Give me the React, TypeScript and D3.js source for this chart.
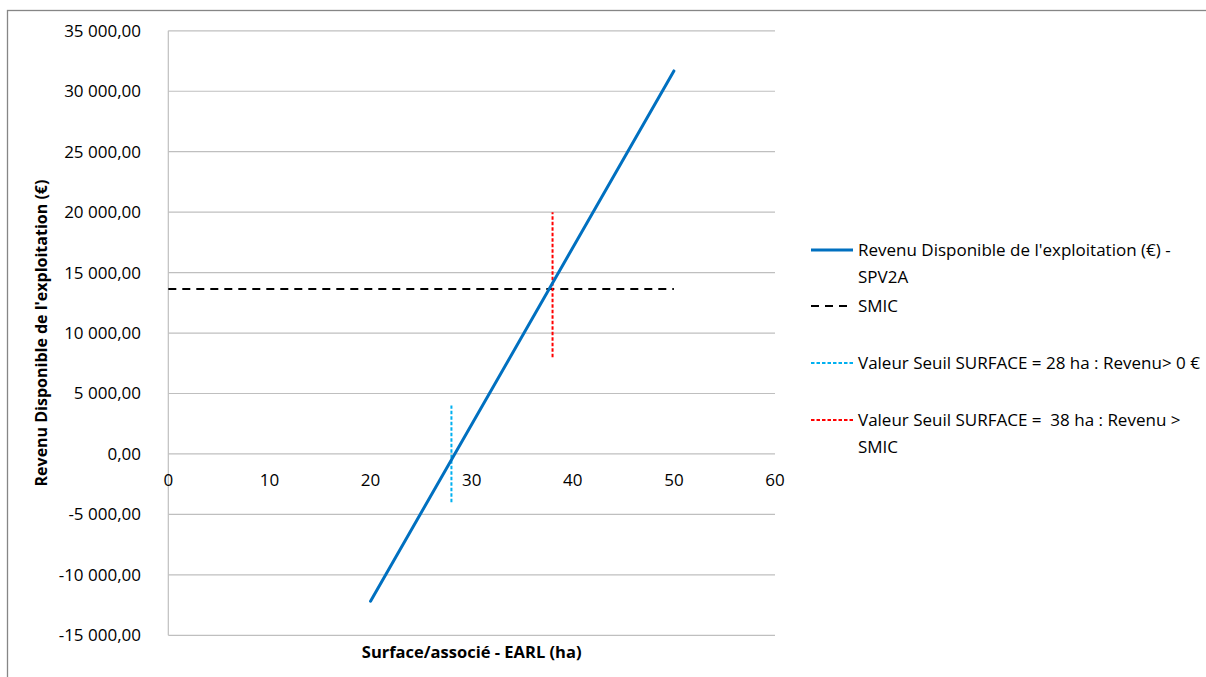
import React from "react";
import * as d3 from "d3";

// Data
const revenuX = [20, 50];
const revenuY = [-12180, 31680];
const smicX = [0, 50];
const smicY = [13650, 13650];
const seuil0X = [28, 28];
const seuil0Y = [-4000, 4000];
const seuilSmicX = [38, 38];
const seuilSmicY = [8000, 20000];
const xTicks = [0, 10, 20, 30, 40, 50, 60];
const yTicks = [-15000, -10000, -5000, 0, 5000, 10000, 15000, 20000, 25000, 30000, 35000];

const legendItems = [
  { lines: ["Revenu Disponible de l'exploitation (€) -", "SPV2A"], color: "#0070C0", dash: "", width: 3 },
  { lines: ["SMIC"], color: "#000000", dash: "8,6", width: 2 },
  { lines: ["Valeur Seuil SURFACE = 28 ha : Revenu> 0 €"], color: "#00B0F0", dash: "3.5,2", width: 2 },
  { lines: ["Valeur Seuil SURFACE =  38 ha : Revenu >", "SMIC"], color: "#FF0000", dash: "3.5,2", width: 2 },
];

const FONT = "'Open Sans', sans-serif";
const FS = 17;

function fmt(v: number): string {
  const neg = v < 0;
  const a = Math.abs(v);
  const s = String(Math.round(a)).replace(/\B(?=(\d{3})+(?!\d))/g, " ");
  return (neg ? "-" : "") + s + ",00";
}

export default function App() {
  const W = 1206, H = 677;
  const left = 168.3, right = 775, top = 30.8, bottom = 635.3;
  const x = d3.scaleLinear().domain([0, 60]).range([left, right]);
  const y = d3.scaleLinear().domain([-15000, 35000]).range([bottom, top]);
  const line = d3.line<[number, number]>().x(d => x(d[0])).y(d => y(d[1]));
  const zip = (a: number[], b: number[]) => a.map((v, i) => [v, b[i]] as [number, number]);

  const legendY = [250, 306, 363, 420];

  return (
    <svg width={W} height={H} style={{ position: "absolute", left: 0, top: 0 }}>
      <rect x={0} y={0} width={W} height={H} fill="#fff" />
      <rect x={7.5} y={10.5} width={1400} height={800} fill="#fff" stroke="#868686" strokeWidth={1.3} />
      {/* gridlines */}
      {yTicks.map(t => (
        <line key={t} x1={left} x2={right} y1={y(t)} y2={y(t)} stroke="#bfbfbf" strokeWidth={1.2} />
      ))}
      <line x1={left} x2={left} y1={top} y2={bottom} stroke="#bfbfbf" strokeWidth={1.2} />
      {/* y tick labels */}
      {yTicks.map(t => (
        <text key={t} x={141} y={y(t)} dy="0.35em" textAnchor="end" fontFamily={FONT} fontSize={FS} fill="#000">
          {fmt(t)}
        </text>
      ))}
      {/* x tick labels */}
      {xTicks.map(t => (
        <text key={t} x={x(t)} y={y(0) + 26} dy="0.35em" textAnchor="middle" fontFamily={FONT} fontSize={FS} fill="#000">
          {t}
        </text>
      ))}
      {/* series */}
      <path d={line(zip(smicX, smicY)) || ""} fill="none" stroke="#000" strokeWidth={2} strokeDasharray="8,6" />
      <path d={line(zip(seuil0X, seuil0Y)) || ""} fill="none" stroke="#00B0F0" strokeWidth={2} strokeDasharray="3.5,2" />
      <path d={line(zip(seuilSmicX, seuilSmicY)) || ""} fill="none" stroke="#FF0000" strokeWidth={2} strokeDasharray="3.5,2" />
      <path d={line(zip(revenuX, revenuY)) || ""} fill="none" stroke="#0070C0" strokeWidth={3} strokeLinecap="round" />
      {/* axis titles */}
      <text x={(left + right) / 2} y={652} dy="0.35em" textAnchor="middle" fontFamily={FONT} fontWeight="bold" fontSize={16.5}>
        Surface/associé - EARL (ha)
      </text>
      <text transform={`translate(41,${(top + bottom) / 2}) rotate(-90)`} dy="0.35em" textAnchor="middle" fontFamily={FONT} fontWeight="bold" fontSize={16}>
        Revenu Disponible de l'exploitation (€)
      </text>
      {/* legend */}
      {legendItems.map((it, i) => (
        <g key={i}>
          <line x1={811} x2={853} y1={legendY[i]} y2={legendY[i]} stroke={it.color} strokeWidth={it.width} strokeDasharray={it.dash} />
          {it.lines.map((l, j) => (
            <text key={j} x={858} y={legendY[i] + j * 27} dy="0.35em" fontFamily={FONT} fontSize={FS} fill="#000" style={{ whiteSpace: "pre" }}>
              {l}
            </text>
          ))}
        </g>
      ))}
    </svg>
  );
}
